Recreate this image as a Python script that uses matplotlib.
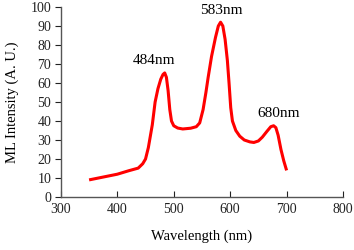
import matplotlib
matplotlib.use("Agg")
import matplotlib.pyplot as plt

wavelength = [350, 375, 400, 420, 437, 445, 450, 455, 462, 467, 472, 477, 481, 484,
              487, 490, 493, 496, 500, 507, 516, 530, 540, 546, 552, 557, 561, 567,
              574, 579, 583, 587, 591, 595, 598, 601, 604, 610, 617, 625, 635, 642,
              650, 657, 665, 672, 677, 681, 685, 690, 695, 700]
intensity = [9, 10.5, 12, 13.8, 15.2, 17.5, 20, 26, 38, 50, 57, 62, 64.5, 65.3,
             63, 56, 46, 40, 37.5, 36.3, 35.8, 36.2, 37, 39, 46, 55, 63, 74,
             84, 90, 92, 90, 83, 72, 60, 47, 40, 35, 32, 30, 29, 28.7,
             29.5, 31.5, 34.5, 37, 37.5, 36.5, 32.5, 25, 19, 14]

peak_labels = ["484nm", "583nm", "680nm"]
peak_label_x = [465, 584, 686]
peak_label_y = [71.6, 98.3, 43.7]

xticks = [300, 400, 500, 600, 700, 800]
yticks = [0, 10, 20, 30, 40, 50, 60, 70, 80, 90, 100]

plt.rcParams['font.family'] = ['Liberation Serif', 'DejaVu Serif']

fig = plt.figure(figsize=(3.54, 2.5), dpi=100)
ax = fig.add_axes([0.172, 0.212, 0.797, 0.76])
ax.plot(wavelength, intensity, color='#ff0000', lw=2.2, solid_capstyle='butt',
        solid_joinstyle='round')

for t, x, y in zip(peak_labels, peak_label_x, peak_label_y):
    ax.text(x, y, t, ha='center', va='center', fontsize=11, clip_on=False)

ax.set_xlim(300, 800)
ax.set_ylim(0, 100)
ax.set_xticks(xticks)
ax.set_yticks(yticks)
ax.tick_params(axis='x', direction='in', length=4, labelsize=10, colors='#222222', pad=4)
ax.tick_params(axis='y', direction='out', length=4, labelsize=10, colors='#222222', pad=3)
for s in ['top', 'right']:
    ax.spines[s].set_visible(False)
for s in ['left', 'bottom']:
    ax.spines[s].set_color('#555555')
    ax.spines[s].set_linewidth(1.0)
ax.set_xlabel('Wavelength (nm)', fontsize=10.5, labelpad=10)
ax.set_ylabel('ML Intensity (A. U.)', fontsize=10.5, labelpad=8)

fig.savefig('out.png', dpi=100)
